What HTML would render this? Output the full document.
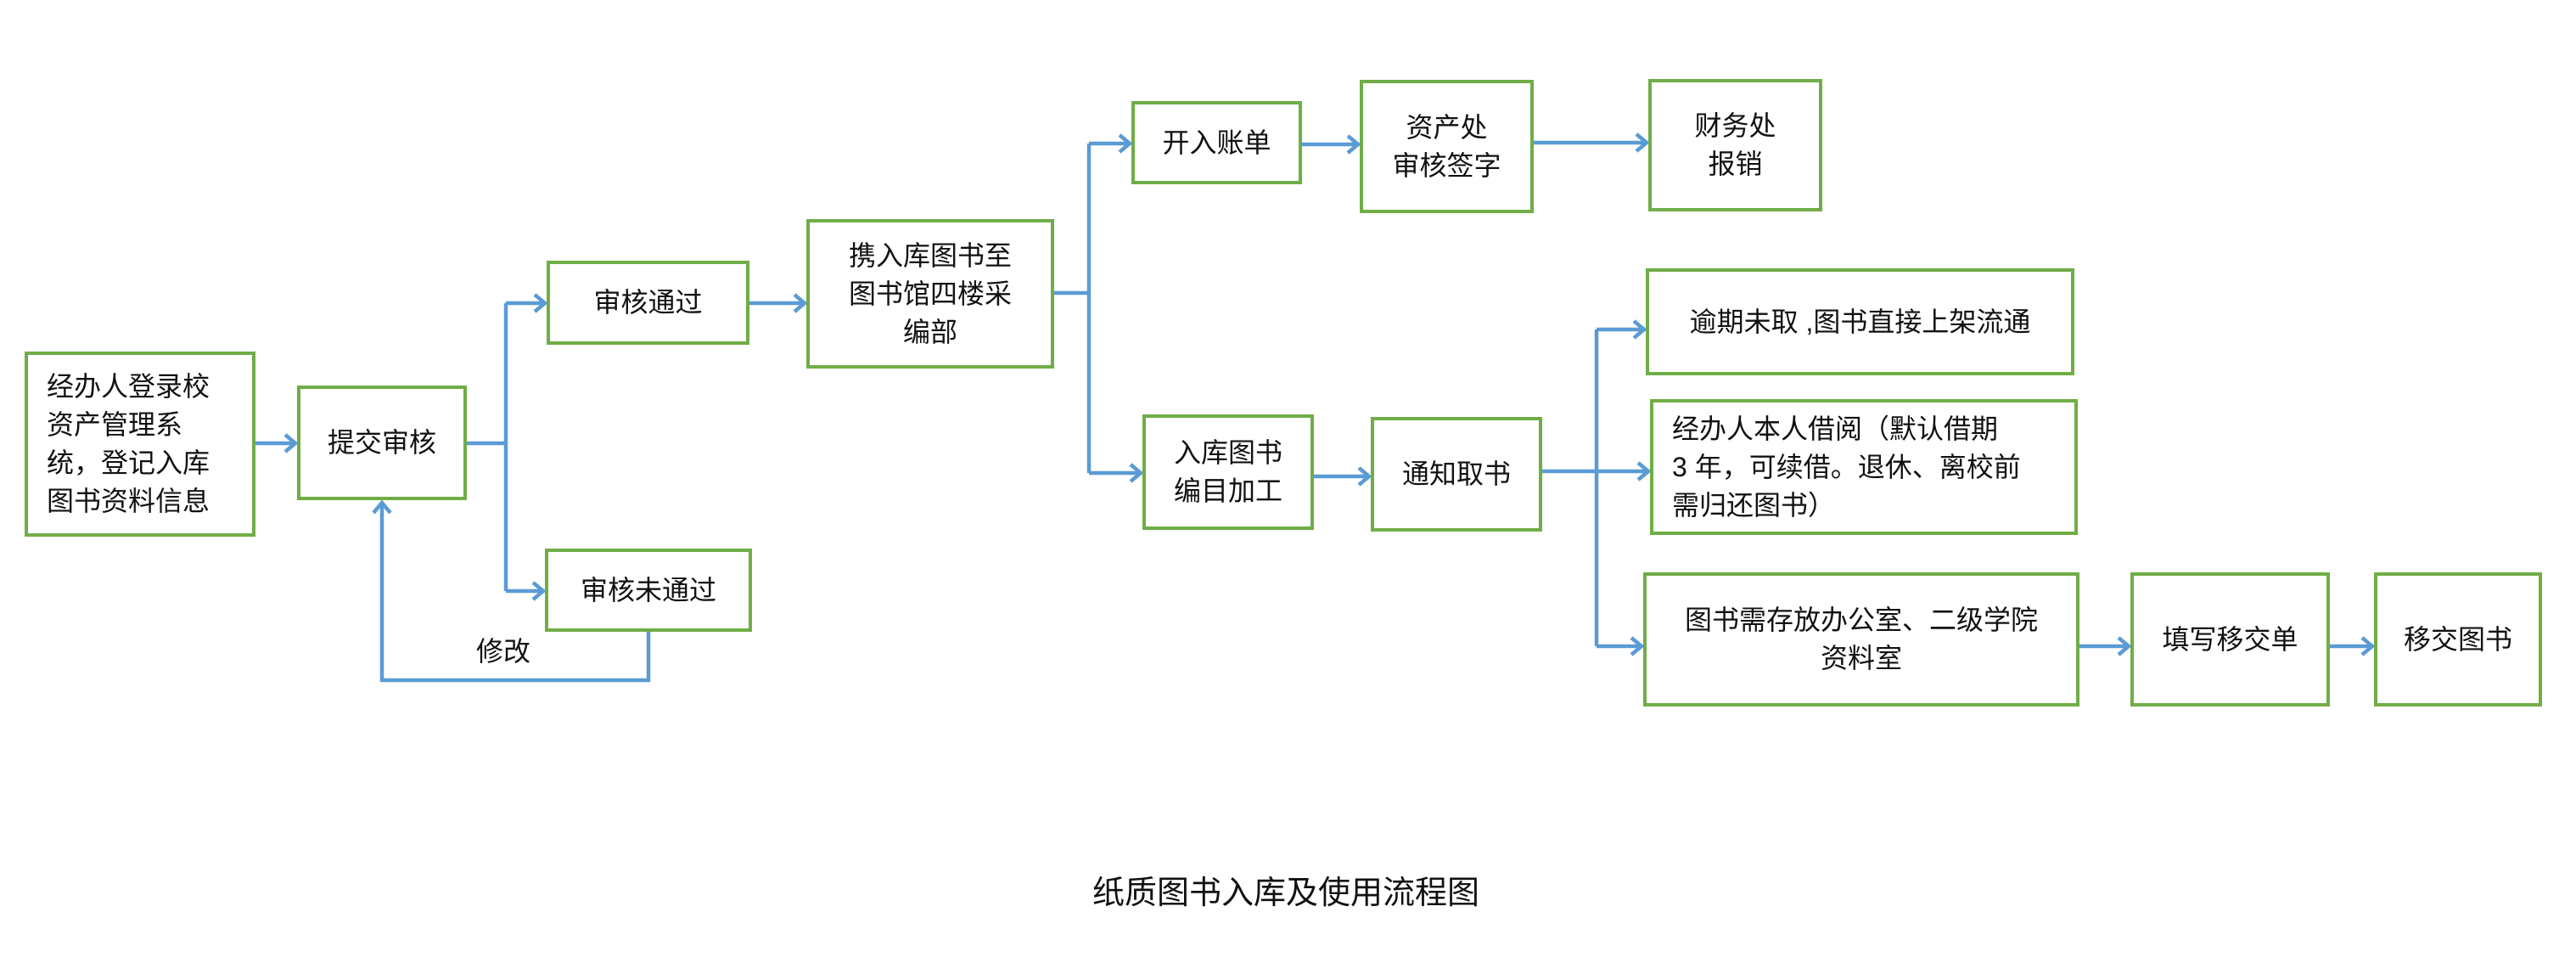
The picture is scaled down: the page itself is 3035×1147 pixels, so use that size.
<!DOCTYPE html>
<html><head><meta charset="utf-8"><style>
body{margin:0;background:#fff;}
#c{position:relative;width:3035px;height:1147px;overflow:hidden;font-family:"Liberation Sans","Noto Sans CJK SC",sans-serif;color:#111;}
.b{position:absolute;box-sizing:border-box;border:4px solid #70ad47;display:flex;align-items:center;justify-content:center;text-align:center;font-size:32px;line-height:45px;padding:0 12px;}
.l{text-align:left;justify-content:flex-start;}
svg{position:absolute;left:0;top:0;}
.t{position:absolute;font-size:32px;}
</style></head><body><div id="c">
<svg width="3035" height="1147">
<defs><marker id="a" markerWidth="20" markerHeight="24" refX="16" refY="12" orient="auto" markerUnits="userSpaceOnUse"><path d="M4,2 L16,12 L4,22" fill="none" stroke="#5b9bd5" stroke-width="4.5"/></marker></defs>
<g fill="none" stroke="#5b9bd5" stroke-width="4.5">
<path d="M301,522 H348" marker-end="url(#a)"/>
<path d="M550,522 H596"/>
<path d="M596,357 V696"/>
<path d="M596,357 H642" marker-end="url(#a)"/>
<path d="M596,696 H640" marker-end="url(#a)"/>
<path d="M764,744 V801 H450 V592" marker-end="url(#a)"/>
<path d="M883,357 H948" marker-end="url(#a)"/>
<path d="M1242,345 H1283"/>
<path d="M1283,169 V557"/>
<path d="M1283,169 H1331" marker-end="url(#a)"/>
<path d="M1283,557 H1344" marker-end="url(#a)"/>
<path d="M1534,170 H1600" marker-end="url(#a)"/>
<path d="M1807,168 H1940" marker-end="url(#a)"/>
<path d="M1548,561 H1613" marker-end="url(#a)"/>
<path d="M1817,555 H1942" marker-end="url(#a)"/>
<path d="M1881,388 V761"/>
<path d="M1881,388 H1937" marker-end="url(#a)"/>
<path d="M1881,761 H1934" marker-end="url(#a)"/>
<path d="M2450,761 H2508" marker-end="url(#a)"/>
<path d="M2745,761 H2795" marker-end="url(#a)"/>
</g></svg>
<div class="b l" style="left:29px;top:414px;width:272px;height:218px;padding-left:22px;">经办人登录校<br>资产管理系<br>统，登记入库<br>图书资料信息</div>
<div class="b" style="left:350px;top:454px;width:200px;height:135px;">提交审核</div>
<div class="b" style="left:644px;top:307px;width:239px;height:99px;">审核通过</div>
<div class="b" style="left:642px;top:646px;width:244px;height:98px;">审核未通过</div>
<div class="t" style="left:561px;top:742px;">修改</div>
<div class="b" style="left:950px;top:258px;width:292px;height:176px;">携入库图书至<br>图书馆四楼采<br>编部</div>
<div class="b" style="left:1333px;top:119px;width:201px;height:98px;">开入账单</div>
<div class="b" style="left:1602px;top:94px;width:205px;height:157px;">资产处<br>审核签字</div>
<div class="b" style="left:1942px;top:93px;width:205px;height:156px;">财务处<br>报销</div>
<div class="b" style="left:1346px;top:488px;width:202px;height:136px;">入库图书<br>编目加工</div>
<div class="b" style="left:1615px;top:491px;width:202px;height:135px;">通知取书</div>
<div class="b" style="left:1939px;top:316px;width:505px;height:126px;">逾期未取 ,图书直接上架流通</div>
<div class="b l" style="left:1944px;top:470px;width:504px;height:160px;padding-left:22px;">经办人本人借阅（默认借期<br>3 年，可续借。退休、离校前<br>需归还图书）</div>
<div class="b" style="left:1936px;top:674px;width:514px;height:158px;">图书需存放办公室、二级学院<br>资料室</div>
<div class="b" style="left:2510px;top:674px;width:235px;height:158px;">填写移交单</div>
<div class="b" style="left:2797px;top:674px;width:198px;height:158px;">移交图书</div>
<div class="t" style="left:1255px;top:1020px;width:520px;text-align:center;font-size:38px;">纸质图书入库及使用流程图</div>
</div></body></html>
